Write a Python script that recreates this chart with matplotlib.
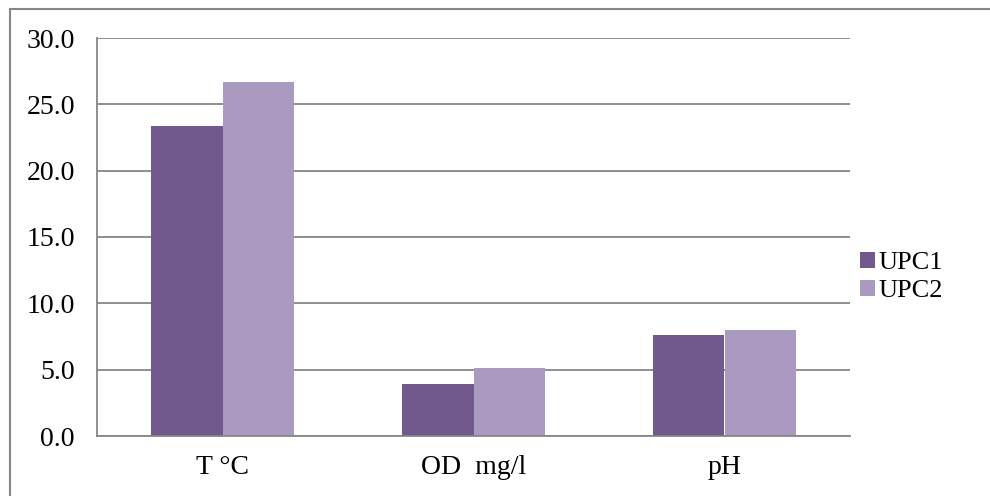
import numpy as np
import matplotlib.pyplot as plt
from matplotlib.patches import Rectangle

# parameters and the two sampling points
params = ['T °C', 'OD  mg/l', 'pH']
upc1 = [23.4, 3.9, 7.6]
upc2 = [26.7, 5.1, 8.0]
yticks = [0, 5, 10, 15, 20, 25, 30]

c1 = '#72598d'
c2 = '#aa9abf'
grey = '#868686'
fs = 20

plt.rcParams['font.family'] = ['Liberation Serif', 'DejaVu Serif']

fig = plt.figure(figsize=(9.9, 4.96), dpi=100)
ax = fig.add_axes([97/990, 60/496, (850-97)/990, (436-38)/496])

x = np.arange(len(params))
w = 0.57 / 2
ax.bar(x - w/2, upc1, w, color=c1, label='UPC1', zorder=3)
ax.bar(x + w/2, upc2, w, color=c2, label='UPC2', zorder=3)

ax.set_xlim(-0.5, len(params) - 0.5)
ax.set_ylim(0, 30)
ax.set_yticks(yticks)
ax.set_yticklabels(['%.1f' % v for v in yticks])
ax.set_xticks(x)
ax.set_xticklabels(params)
ax.tick_params(length=0, labelsize=fs, colors='black')
ax.tick_params(axis='y', pad=16)
ax.tick_params(axis='x', pad=14)

ax.yaxis.grid(True, color=grey, lw=1.3, zorder=0)
for s in ['top', 'right']:
    ax.spines[s].set_visible(False)
for s in ['left', 'bottom']:
    ax.spines[s].set_color(grey)
    ax.spines[s].set_linewidth(1.3)
    ax.spines[s].set_zorder(4)

leg = ax.legend(loc='center left', bbox_to_anchor=(860/990, 1 - 277/496),
                bbox_transform=fig.transFigure, frameon=False,
                fontsize=19, handlelength=0.55, handleheight=0.55,
                handletextpad=0.15, labelspacing=0.2, borderpad=0,
                borderaxespad=0)

# outer chart border
fig.patches.append(Rectangle((10/990, -0.1), 1.2, 1 - 9/496 + 0.1,
                             transform=fig.transFigure, fill=False,
                             edgecolor=grey, lw=1.5))

fig.savefig('out.png', dpi=100)
